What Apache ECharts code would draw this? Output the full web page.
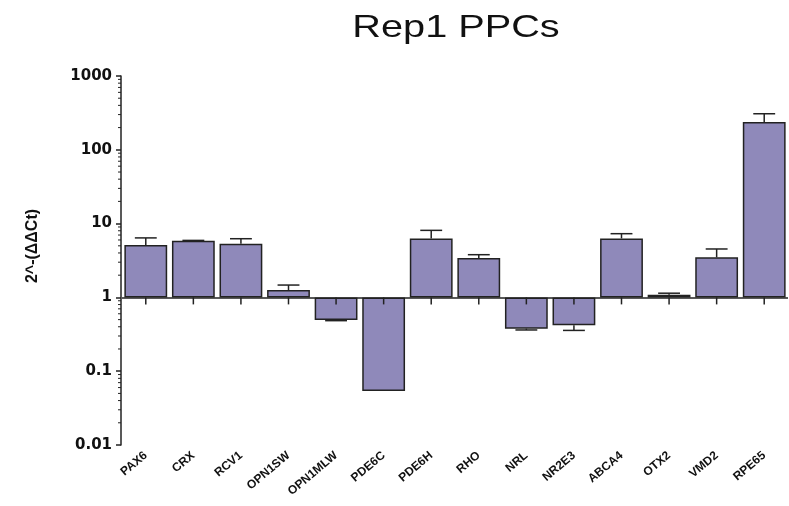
<!DOCTYPE html>
<html>
<head>
<meta charset="utf-8">
<script src="https://cdn.jsdelivr.net/npm/echarts@6/dist/echarts.min.js"></script>
<style>
html,body{margin:0;padding:0;background:#fff;}
#chart{width:789px;height:506px;}
</style>
</head>
<body>
<div id="chart"></div>
<script>
const categories = ['PAX6','CRX','RCV1','OPN1SW','OPN1MLW','PDE6C','PDE6H','RHO','NRL','NR2E3','ABCA4','OTX2','VMD2','RPE65'];
const meanValues = [5.13, 5.86, 5.34, 1.26, 0.494, 0.054, 6.3, 3.42, 0.377, 0.419, 6.3, 1.09, 3.49, 238];
const errorEnds  = [6.4, 5.92, 6.24, 1.47, 0.484, null, 8.1, 3.79, 0.362, 0.357, 7.3, 1.14, 4.53, 308];
const yTickLabels = ['0.01','0.1','1','10','100','1000'];
const minorMultipliers = [2,3,4,5,6,7,8,9];
const decades = [0.01, 0.1, 1, 10, 100];

const barColor = '#8f89ba';
const inkColor = '#222';

const chart = echarts.init(document.getElementById('chart'), null, {renderer:'canvas'});

const errData = [];
categories.forEach((c, i) => { if (errorEnds[i] != null) errData.push([i, meanValues[i], errorEnds[i]]); });
const tickData = categories.map((c, i) => [i, 1]);
const minorData = [];
decades.forEach(d => minorMultipliers.forEach(m => minorData.push([0, +(d * m).toPrecision(3)])));

const option = {
  animation: false,
  grid: { left: 122, right: 1, top: 76, bottom: 61, containLabel: false },
  graphic: [
    { type: 'text', x: 456, y: 28, scaleX: 1.24,
      style: { text: 'Rep1 PPCs', font: '32px "Liberation Sans", Arial', fill: '#111',
               textAlign: 'center', textVerticalAlign: 'middle' } },
    { type: 'text', x: 33, y: 246, rotation: Math.PI / 2,
      style: { text: '2^-(ΔΔCt)', font: 'bold 16px "Liberation Sans", Arial', fill: '#111',
               textAlign: 'center', textVerticalAlign: 'middle' } }
  ],
  xAxis: {
    type: 'category', data: categories, position: 'bottom',
    axisLine: { show: false }, axisTick: { show: false }, splitLine: { show: false },
    axisLabel: { rotate: 40, margin: 9, interval: 0, color: '#111',
                 fontFamily: 'Liberation Sans', fontWeight: 'bold', fontSize: 12 }
  },
  yAxis: {
    type: 'log', logBase: 10, min: 0.01, max: 1000, offset: 1,
    axisLine: { show: true, lineStyle: { color: inkColor, width: 1.5 } },
    axisTick: { show: true, length: 5, inside: false, lineStyle: { color: inkColor, width: 1.5 } },
    splitLine: { show: false },
    minorTick: { show: false },
    axisLabel: { margin: 9, color: '#111', fontFamily: 'DejaVu Sans', fontWeight: 'bold', fontSize: 15,
      formatter: v => yTickLabels[Math.round(Math.log10(v)) + 2] }
  },
  series: [
    {
      type: 'bar', data: meanValues, barWidth: '90%', z: 2,
      itemStyle: { color: barColor, borderColor: inkColor, borderWidth: 1.5 },
      markLine: { silent: true, symbol: 'none', label: { show: false },
        lineStyle: { color: inkColor, width: 1.5, type: 'solid' },
        data: [{ yAxis: 1 }] }
    },
    {
      type: 'custom', data: errData, z: 4, encode: { x: 0, y: [1, 2] },
      renderItem: (params, api) => {
        const i = api.value(0);
        const p0 = api.coord([i, api.value(1)]);
        const p1 = api.coord([i, api.value(2)]);
        const half = api.size([1, 0])[0] * 0.23;
        return { type: 'group', children: [
          { type: 'line', shape: { x1: p0[0], y1: p0[1], x2: p1[0], y2: p1[1] },
            style: { stroke: inkColor, lineWidth: 1.5 } },
          { type: 'line', shape: { x1: p1[0] - half, y1: p1[1], x2: p1[0] + half, y2: p1[1] },
            style: { stroke: inkColor, lineWidth: 1.5 } }
        ]};
      }
    },
    {
      type: 'custom', data: tickData, z: 5, encode: { x: 0, y: 1 },
      renderItem: (params, api) => {
        const p = api.coord([api.value(0), api.value(1)]);
        return { type: 'line', shape: { x1: p[0], y1: p[1], x2: p[0], y2: p[1] + 7 },
                 style: { stroke: inkColor, lineWidth: 1.5 } };
      }
    },
    {
      type: 'custom', data: minorData, z: 5, encode: { x: 0, y: 1 }, clip: false,
      renderItem: (params, api) => {
        const p = api.coord([0, api.value(1)]);
        const ax = params.coordSys.x - 1;
        return { type: 'line', shape: { x1: ax - 3, y1: p[1], x2: ax, y2: p[1] },
                 style: { stroke: inkColor, lineWidth: 1 } };
      }
    }
  ]
};
chart.setOption(option);
</script>
</body>
</html>
